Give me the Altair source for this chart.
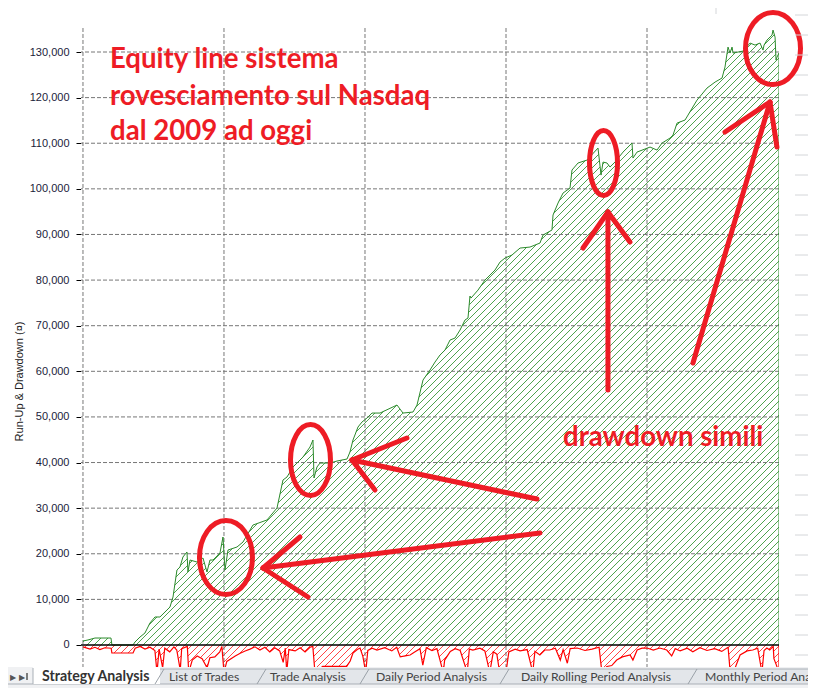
import altair as alt
import numpy as np
import pandas as pd

# ---------------- data (x = decimal year, values in currency units) ----------------
EQ_YEAR = [2009.000, 2009.071, 2009.170, 2009.397, 2009.411, 2009.709, 2009.738, 2009.809, 2009.879, 2009.950,
           2010.021, 2010.092, 2010.163, 2010.234, 2010.277, 2010.333, 2010.376, 2010.418, 2010.475, 2010.489,
           2010.518, 2010.617, 2010.702, 2010.759, 2010.801, 2010.844, 2010.943, 2010.986, 2011.014, 2011.057,
           2011.184, 2011.270, 2011.411, 2011.610, 2011.752, 2011.837, 2011.894, 2011.979, 2012.121, 2012.220,
           2012.262, 2012.277, 2012.319, 2012.362, 2012.504, 2012.603, 2012.745, 2012.787, 2012.830, 2012.901,
           2012.957, 2013.028, 2013.099, 2013.213, 2013.454, 2013.539, 2013.681, 2013.738, 2013.823, 2013.922,
           2013.993, 2014.064, 2014.135, 2014.206, 2014.277, 2014.348, 2014.418, 2014.461, 2014.489, 2014.504,
           2014.603, 2014.702, 2014.773, 2014.844, 2014.915, 2014.986, 2015.085, 2015.199, 2015.340, 2015.482,
           2015.525, 2015.652, 2015.667, 2015.738, 2015.809, 2015.908, 2015.936, 2016.021, 2016.149, 2016.305,
           2016.348, 2016.376, 2016.433, 2016.475, 2016.546, 2016.660, 2016.787, 2016.801, 2016.858, 2017.043,
           2017.142, 2017.213, 2017.326, 2017.369, 2017.426, 2017.539, 2017.582, 2017.709, 2017.851, 2017.965,
           2018.064, 2018.106, 2018.149, 2018.177, 2018.206, 2018.220, 2018.291, 2018.362, 2018.461, 2018.532,
           2018.603, 2018.645, 2018.660, 2018.702, 2018.773, 2018.787, 2018.816, 2018.830, 2018.844, 2018.872]
EQ_VALUE = [880, 1100, 1530, 1530, 0, 0, 660, 1750, 2630, 4820,
            6140, 6140, 7230, 8330, 10520, 16440, 17100, 19290, 20390, 16000,
            18630, 18190, 19070, 16000, 18630, 18630, 20170, 23670, 16440, 20820,
            21480, 22580, 26300, 27400, 30030, 36170, 36830, 39020, 41210, 43400,
            44940, 36610, 39020, 39890, 39890, 40330, 40770, 42310, 44940, 47790,
            48880, 49760, 50850, 50850, 52610, 50850, 51070, 52610, 58090, 60280,
            62030, 63570, 64660, 66860, 67290, 69050, 71240, 71680, 76500, 76060,
            77810, 80010, 81100, 82200, 83950, 84830, 85490, 87020, 87240, 88120,
            89870, 90970, 94260, 96890, 99080, 100180, 104120, 105660, 106310, 108940,
            103020, 105870, 105660, 104780, 105870, 108060, 110040, 106750, 108060, 109160,
            108500, 110040, 111130, 111790, 114420, 115080, 116180, 119460, 122090, 123410,
            124290, 126700, 131080, 129770, 131080, 129770, 129990, 130200, 131960, 131520,
            131960, 130420, 131520, 132620, 133710, 134810, 133270, 128230, 128890, 129770]

DD_YEAR = [2009.00, 2009.10, 2009.17, 2009.24, 2009.31, 2009.40, 2009.41, 2009.71, 2009.74, 2009.81,
           2009.88, 2009.95, 2010.02, 2010.05, 2010.08, 2010.13, 2010.16, 2010.23, 2010.29, 2010.33,
           2010.38, 2010.40, 2010.48, 2010.50, 2010.55, 2010.62, 2010.69, 2010.76, 2010.80, 2010.87,
           2010.94, 2010.97, 2011.00, 2011.04, 2011.16, 2011.23, 2011.30, 2011.37, 2011.44, 2011.51,
           2011.58, 2011.65, 2011.72, 2011.79, 2011.84, 2011.87, 2011.89, 2011.92, 2012.01, 2012.08,
           2012.15, 2012.22, 2012.26, 2012.29, 2012.40, 2012.74, 2012.79, 2012.83, 2012.89, 2012.93,
           2012.97, 2013.01, 2013.04, 2013.10, 2013.17, 2013.28, 2013.38, 2013.45, 2013.50, 2013.57,
           2013.64, 2013.71, 2013.78, 2013.82, 2013.87, 2013.95, 2014.02, 2014.11, 2014.13, 2014.21,
           2014.28, 2014.35, 2014.45, 2014.48, 2014.53, 2014.63, 2014.70, 2014.77, 2014.82, 2014.87,
           2014.91, 2014.96, 2015.00, 2015.04, 2015.13, 2015.20, 2015.30, 2015.38, 2015.41, 2015.48,
           2015.55, 2015.62, 2015.70, 2015.77, 2015.81, 2015.87, 2015.91, 2016.01, 2016.12, 2016.22,
           2016.32, 2016.36, 2016.43, 2016.50, 2016.57, 2016.65, 2016.76, 2016.80, 2016.86, 2016.93,
           2017.00, 2017.09, 2017.18, 2017.28, 2017.35, 2017.40, 2017.47, 2017.57, 2017.65, 2017.75,
           2017.85, 2017.96, 2018.06, 2018.15, 2018.18, 2018.25, 2018.32, 2018.42, 2018.50, 2018.57,
           2018.63, 2018.66, 2018.70, 2018.74, 2018.79, 2018.80, 2018.83, 2018.872]
DD_VALUE = [-400, -900, -500, -1000, -600, -700, -1750, -1750, -700, -300,
            -900, -500, -1200, -6000, -900, -5000, -700, -1500, -400, -1100,
            -5500, -800, -300, -6000, -3300, -2400, -3000, -5000, -2800, -2600,
            -1500, -300, -6000, -3600, -2400, -1800, -1300, -900, -400, -1100,
            -500, -1500, -600, -1300, -3800, -700, -6000, -1000, -1300, -600,
            -1500, -500, -300, -6000, -4700, -4700, -3500, -1750, -1000, -660,
            -2500, -6000, -1200, -700, -1100, -600, -1300, -500, -2600, -2400,
            -2200, -1500, -800, -4400, -600, -1200, -800, -6000, -3300, -1400,
            -800, -1200, -6000, -900, -1100, -700, -1300, -6000, -1500, -2000,
            -6000, -5000, -6000, -1500, -900, -1300, -1000, -6000, -1400, -2200,
            -1100, -1100, -700, -3300, -1000, -4000, -800, -660, -1200, -900,
            -500, -6000, -4700, -4500, -3300, -2600, -2200, -3300, -1100, -700,
            -660, -1100, -660, -1100, -2400, -800, -1300, -700, -1500, -600,
            -1200, -800, -1400, -500, -6000, -5000, -2200, -1300, -1100, -700,
            -6000, -1200, -660, -1100, -300, -3000, -4200, -6000]

Y_TICKS = [0, 10000, 20000, 30000, 40000, 50000, 60000, 70000, 80000, 90000,
           100000, 110000, 120000, 130000]
X_GRID = [2009, 2011, 2013, 2015, 2017]
Y_TITLE = "Run-Up & Drawdown (¤)"
TABS = ["Strategy Analysis", "List of Trades", "Trade Analysis", "Daily Period Analysis",
        "Daily Rolling Period Analysis", "Monthly Period Analysis"]

# ---------------- hand-drawn annotations (data coordinates) ----------------
NOTE_LINES = ["Equity line sistema", "rovesciamento sul Nasdaq", "dal 2009 ad oggi", "drawdown simili"]
NOTE_YEAR = [2009.383, 2009.383, 2009.383, 2015.808]
NOTE_VALUE = [126490, 118379, 110706, 43625]
CIRCLE_YEAR = [2011.028, 2012.227, 2016.383, 2018.787]
CIRCLE_VALUE = [19182, 40556, 105664, 130765]
ARROW_X1 = [2015.482, 2011.553, 2011.553, 2015.439, 2012.815, 2012.815, 2016.446, 2016.446, 2016.446,
            2017.652, 2018.744, 2018.744]
ARROW_Y1 = [24553, 16880, 16880, 32006, 40556, 40556, 55901, 94922, 94922, 61820, 119036, 119036]
ARROW_X2 = [2011.553, 2012.078, 2012.191, 2012.815, 2013.595, 2013.142, 2016.446, 2016.092, 2016.758,
            2018.744, 2018.106, 2018.843]
ARROW_Y2 = [16880, 23676, 10523, 40556, 45379, 33979, 94922, 87030, 88346, 119036, 112460, 109172]

# ---------------- layout / style ----------------
RED = "#ee1c25"
GREEN = "#2b8a2b"
XMIN, XMAX = 2008.972, 2018.872
YMIN, YMAX = -4823, 135262
W, H = 698, 639
OX, OY = 81, 28  # plot origin on the page
CIRCLE_W = [53, 40, 28, 55]
CIRCLE_H = [74, 71, 65, 72]

xs = alt.Scale(domain=[XMIN, XMAX], nice=False, zero=False)
ys = alt.Scale(domain=[YMIN, YMAX], nice=False, zero=False)
xax = alt.Axis(labels=False, ticks=False, domain=False, grid=False, title=None)
yax = alt.Axis(values=Y_TICKS, format=",d", grid=False, tickSize=5, tickColor="black",
               domainColor="black", domainWidth=1, labelFont="Liberation Sans", labelFontSize=11,
               labelColor="#1b1b3a", labelPadding=7, title=Y_TITLE, titleFont="Liberation Sans",
               titleFontSize=11, titleFontWeight="normal", titleColor="#222222", titleX=19 - OX,
               titleY=381 - OY, titleAngle=270, titleAlign="center", titleBaseline="middle")


def X(f):
    return alt.X(f, type="quantitative", scale=xs, axis=xax)


def Y(f):
    return alt.Y(f, type="quantitative", scale=ys, axis=yax)


eq = pd.DataFrame({"yr": EQ_YEAR, "v": EQ_VALUE, "top": YMAX})
dd = pd.DataFrame({"yr": DD_YEAR, "v": DD_VALUE, "bot": YMIN})

# hatch texture (45 degree diagonals)
DTOT = H / (W / (XMAX - XMIN))
STEP = 7 / (W / (XMAX - XMIN))
starts = np.arange(XMIN - DTOT, XMAX + STEP, STEP)
frac = -YMIN / (YMAX - YMIN)
red_h = pd.DataFrame({"x": starts, "y": YMIN, "x2": starts + DTOT, "y2": YMAX})
green_h = pd.DataFrame({"x": starts + DTOT * frac, "y": 0.0, "x2": starts + DTOT, "y2": YMAX})

layers = []
layers.append(alt.Chart(red_h).mark_rule(clip=True, color="#ff3030", strokeWidth=0.9).encode(
    x=X("x"), y=Y("y"), x2="x2", y2="y2"))
layers.append(alt.Chart(dd).mark_area(clip=True, color="white", opacity=1).encode(
    x=X("yr"), y=Y("v"), y2="bot"))
upper = pd.DataFrame({"x": [XMIN], "x2": [XMAX], "y": [0], "y2": [YMAX]})
layers.append(alt.Chart(upper).mark_rect(clip=True, color="white", opacity=1).encode(
    x=X("x"), x2="x2", y=Y("y"), y2="y2"))
layers.append(alt.Chart(green_h).mark_rule(clip=True, color="#3a983a", strokeWidth=0.9).encode(
    x=X("x"), y=Y("y"), x2="x2", y2="y2"))
layers.append(alt.Chart(eq).mark_area(clip=True, color="white", opacity=1).encode(
    x=X("yr"), y=Y("v"), y2="top"))
left = pd.DataFrame({"x": [XMIN], "x2": [EQ_YEAR[0]], "y": [YMIN], "y2": [YMAX]})
layers.append(alt.Chart(left).mark_rect(clip=True, color="white", opacity=1).encode(
    x=X("x"), x2="x2", y=Y("y"), y2="y2"))

# dashed grid
layers.append(alt.Chart(pd.DataFrame({"v": Y_TICKS[1:]})).mark_rule(
    color="#777777", strokeDash=[4, 2], strokeWidth=1).encode(y=Y("v")))
layers.append(alt.Chart(pd.DataFrame({"g": X_GRID})).mark_rule(
    clip=True, color="#777777", strokeDash=[4, 2], strokeWidth=1).encode(x=X("g")))

# series lines
layers.append(alt.Chart(dd).mark_line(clip=True, color="#ff0000", strokeWidth=1.2).encode(
    x=X("yr"), y=Y("v")))
layers.append(alt.Chart(eq).mark_line(clip=True, color=GREEN, strokeWidth=1).encode(
    x=X("yr"), y=Y("v")))
edge_g = pd.DataFrame({"x": [EQ_YEAR[-1]], "y": [0], "y2": [EQ_VALUE[-1]]})
layers.append(alt.Chart(edge_g).mark_rule(clip=True, color=GREEN, strokeWidth=1).encode(
    x=X("x"), y=Y("y"), y2="y2"))
edge_r = pd.DataFrame({"x": [DD_YEAR[-1]], "y": [0], "y2": [DD_VALUE[-1]]})
layers.append(alt.Chart(edge_r).mark_rule(clip=True, color="#ff0000", strokeWidth=1.2).encode(
    x=X("x"), y=Y("y"), y2="y2"))
layers.append(alt.Chart(pd.DataFrame({"z": [0]})).mark_rule(color="black", strokeWidth=1.6).encode(
    y=Y("z")))

# annotations
paths = []
sizes = []
for w, h in zip(CIRCLE_W, CIRCLE_H):
    a = w / h
    paths.append(f"M {-a:.3f} 0 A {a:.3f} 1 0 1 0 {a:.3f} 0 A {a:.3f} 1 0 1 0 {-a:.3f} 0 Z")
    sizes.append(h * h)
circ = pd.DataFrame({"yr": CIRCLE_YEAR, "v": CIRCLE_VALUE, "p": paths, "s": sizes})
layers.append(alt.Chart(circ).mark_point(filled=False, color=RED, strokeWidth=5, opacity=1).encode(
    x=X("yr"), y=Y("v"), shape=alt.Shape("p:N", scale=None, legend=None),
    size=alt.Size("s:Q", scale=None, legend=None)))
arr = pd.DataFrame({"x": ARROW_X1, "y": ARROW_Y1, "x2": ARROW_X2, "y2": ARROW_Y2})
layers.append(alt.Chart(arr).mark_rule(color=RED, strokeWidth=5, strokeCap="round").encode(
    x=X("x"), y=Y("y"), x2="x2", y2="y2"))
notes = pd.DataFrame({"t": NOTE_LINES, "yr": NOTE_YEAR, "v": NOTE_VALUE})
layers.append(alt.Chart(notes).mark_text(align="left", baseline="alphabetic", font="Lato",
                                         fontSize=27.6, fontWeight="bold", color=RED).encode(
    x=X("yr"), y=Y("v"), text="t:N"))

# ---------------- window chrome (Excel sheet tabs, cell borders) ----------------
one = pd.DataFrame({"k": [0]})


def rect(x0, x1, y0, y1, fill):
    return alt.Chart(one).mark_rect(color=fill, opacity=1).encode(
        x=alt.value(x0 - OX), x2=alt.value(x1 - OX), y=alt.value(y0 - OY), y2=alt.value(y1 - OY))


def seg(x0, y0, x1, y1, col, w=1):
    return alt.Chart(one).mark_rule(color=col, strokeWidth=w).encode(
        x=alt.value(x0 - OX), x2=alt.value(x1 - OX), y=alt.value(y0 - OY), y2=alt.value(y1 - OY))


def label(txt, x0, y0, size, weight, col, font="Lato"):
    return alt.Chart(one).mark_text(text=txt, align="left", baseline="alphabetic", font=font,
                                    fontSize=size, fontWeight=weight, color=col).encode(
        x=alt.value(x0 - OX), y=alt.value(y0 - OY))


for yy in range(15, 660, 20):
    layers.append(seg(795, yy, 830, yy, "#d4d6d9"))
layers.append(seg(716, 0, 716, 14, "#d4d6d9"))

layers.append(rect(0, 830, 667, 700, "#f0f1f3"))
layers.append(rect(158, 830, 669, 684, "#e3e6ea"))
layers.append(seg(160, 669, 830, 669, "#a9afb6"))
layers.append(seg(0, 684, 830, 684, "#a9afb6"))
layers.append(rect(33, 160, 667, 684, "white"))
layers.append(seg(33, 668, 33, 684, "#a9afb6"))
for b in [160, 262, 365, 505, 693]:
    layers.append(seg(b - 5, 684, b + 4, 669, "#9aa1a8"))
layers.append(label("\u25b6", 10, 680, 8, "normal", "#555555", "DejaVu Sans"))
layers.append(label("\u25b6", 19, 680, 8, "normal", "#555555", "DejaVu Sans"))
layers.append(seg(27, 673, 27, 680, "#555555", 1.5))
TAB_X = [42, 169, 270, 376, 521, 705]
for i, (t, tx) in enumerate(zip(TABS, TAB_X)):
    if i == 0:
        layers.append(label(t, tx, 681, 14.2, "bold", "#333333"))
    else:
        layers.append(label(t, tx, 681, 12.2, "normal", "#444444"))

chart = alt.layer(*layers).properties(
    width=W, height=H,
    autosize=alt.AutoSizeParams(type="none"),
    padding={"left": OX - 8, "top": OY - 8, "right": 29, "bottom": 21},
    background="white",
).configure_view(stroke=None)

chart.save("out.html", embed_options={"renderer": "svg", "actions": False})
